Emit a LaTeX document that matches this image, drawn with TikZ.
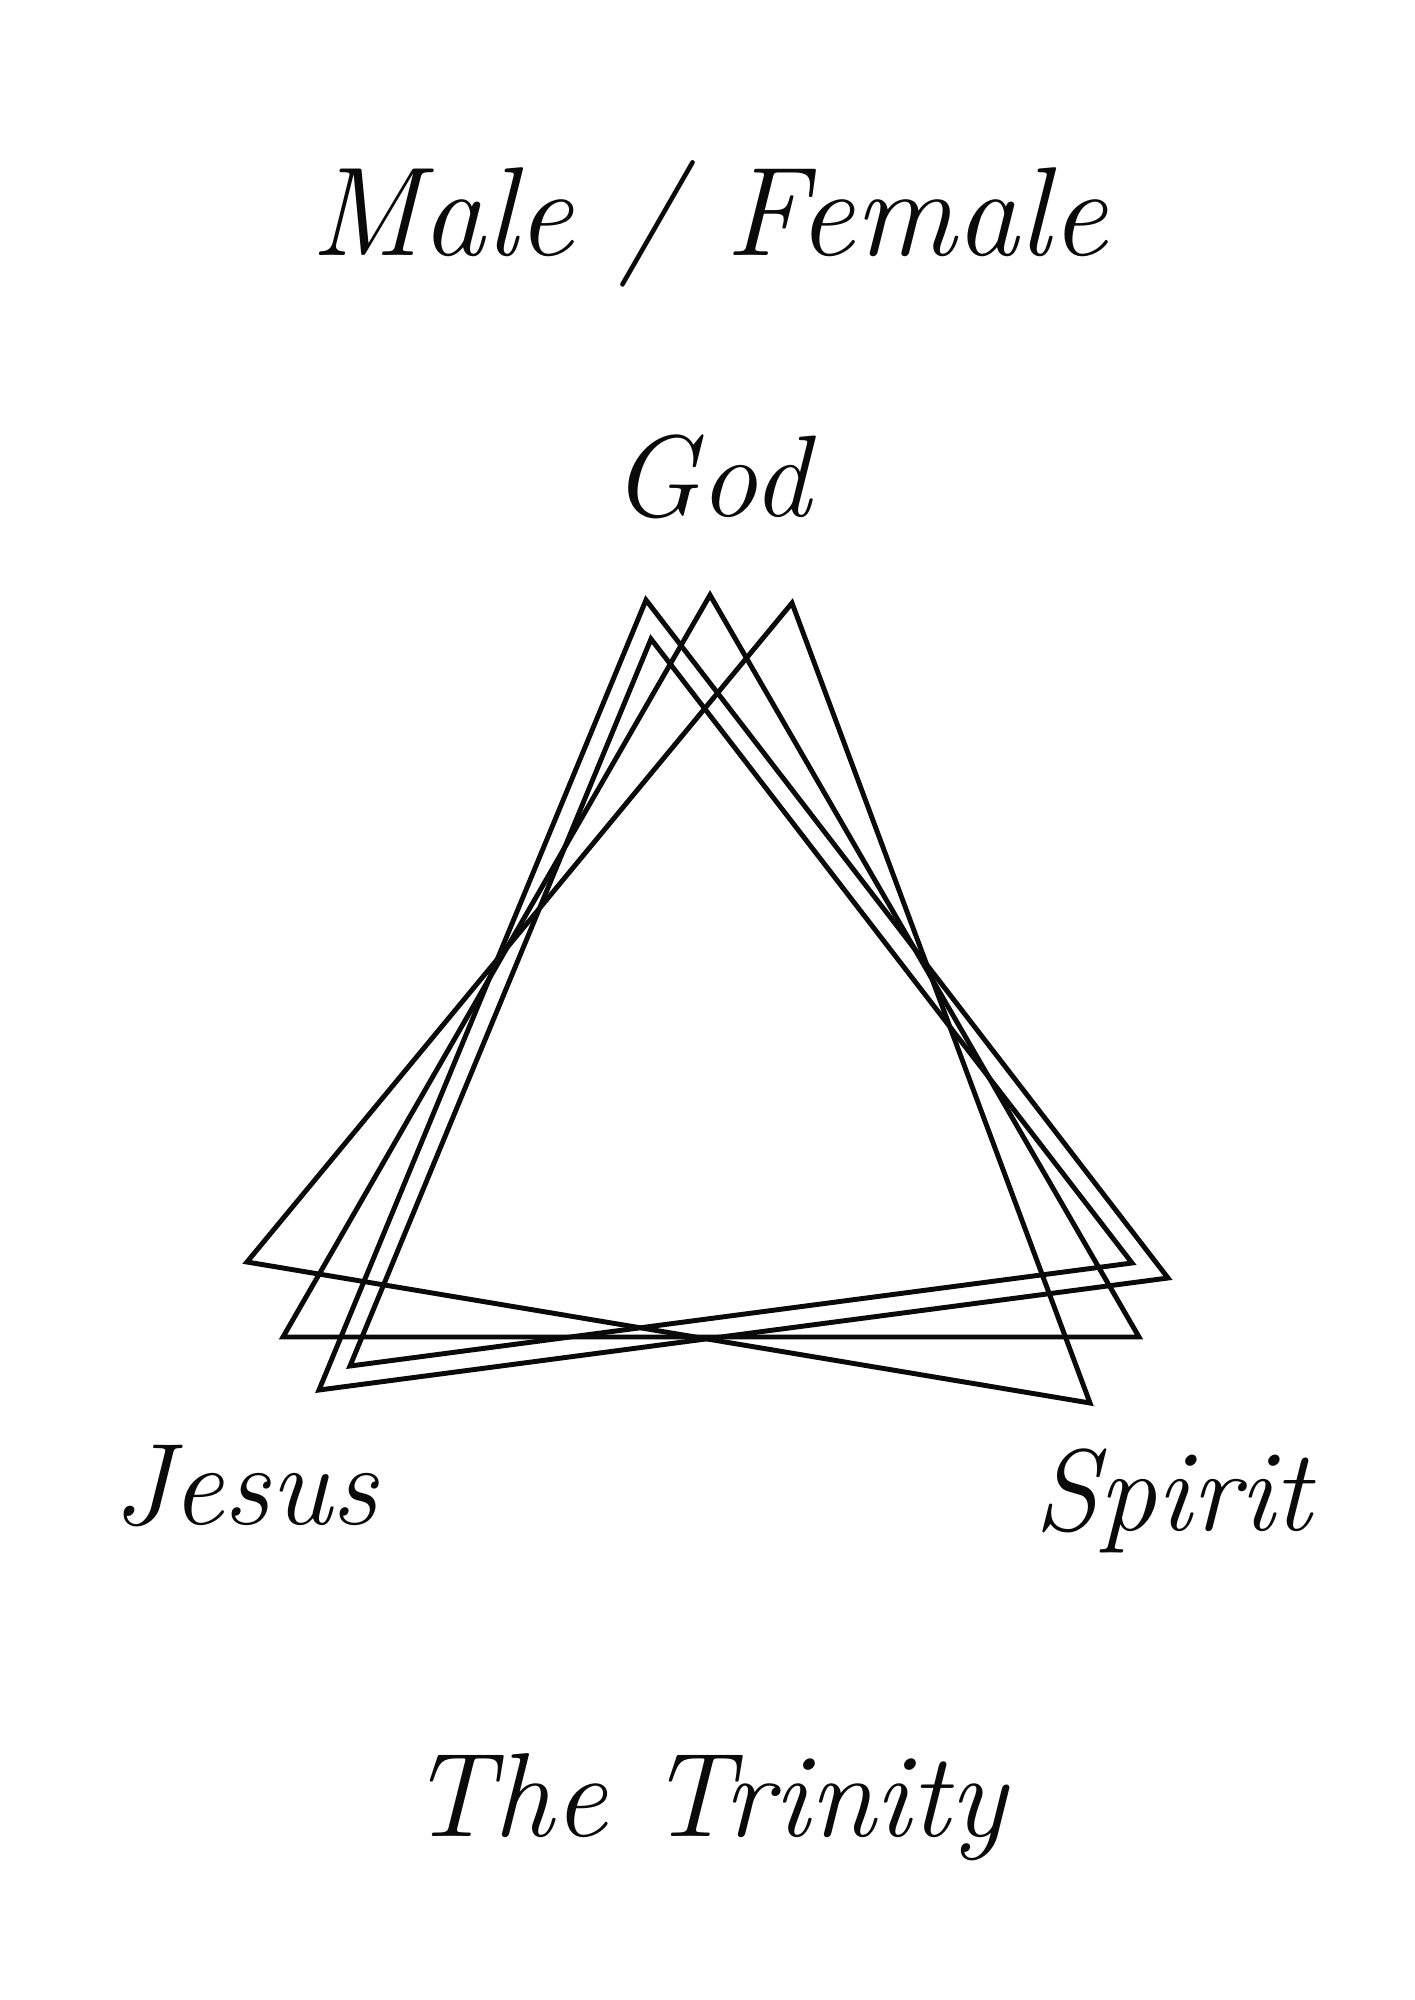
\documentclass[tikz,border=0pt]{standalone}
\usepackage{fontspec}
\usetikzlibrary{calc}
\definecolor{inkblack}{RGB}{10,10,10}

\tikzset{
  trisketch/.style={draw=inkblack,line width=1.4pt,line join=miter},
  scriptlabel/.style={text=inkblack,anchor=base,inner sep=0pt,
    font=\itshape\fontsize{33}{38}\selectfont},
  scripttitle/.style={scriptlabel,font=\itshape\fontsize{36}{42}\selectfont}
}

\begin{document}
\begin{tikzpicture}[x=0.01cm,y=-0.01cm]
  % Page ~1414x2000
  \fill[white] (0,0) rectangle (1414,2000);
  \useasboundingbox (0,0) rectangle (1414,2000);

  % --- Titles ---
  \node[scripttitle] (title) at (709,255) {Male / Female};
  \node[scripttitle,font=\itshape\fontsize{34}{40}\selectfont] (trinity) at (708,1836) {The Trinity};

  % --- Corner labels ---
  \node[scriptlabel] (god) at (711,516) {God};
  \node[scriptlabel] (jesus) at (245,1524) {Jesus};
  \node[scriptlabel] (spirit) at (1173,1530) {Spirit};

  % Four overlapping triangles: apex / left / right
  \foreach \ax/\ay/\lx/\ly/\rx/\ry in {
      792/603/247/1262/1090/1403,
      710/595/283/1337/1139/1337,
      646/600/319/1390/1168/1278,
      651/639/350/1366/1132/1263} {
    \draw[trisketch] (\ax,\ay) -- (\lx,\ly) -- (\rx,\ry) -- cycle;
  }

\end{tikzpicture}
\end{document}
